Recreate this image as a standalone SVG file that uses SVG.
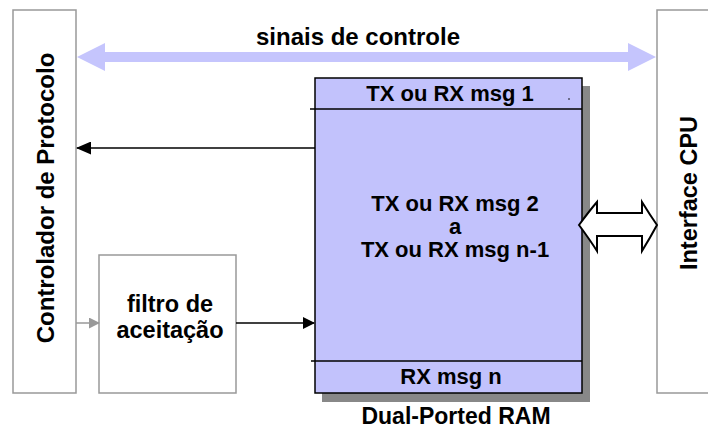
<svg xmlns="http://www.w3.org/2000/svg" width="708" height="429" viewBox="0 0 708 429">
<defs>
<style>
.box{fill:#fff;stroke:#999;stroke-width:1.5}
.t{font-family:"Liberation Sans",Arial,sans-serif;font-weight:bold;font-size:22px;fill:#000;text-anchor:middle}
.big{font-size:24px}
.mid{font-size:23.5px}
.blk{stroke:#000;stroke-width:1.5;fill:none}
</style>
<marker id="ab" viewBox="0 0 12 12" refX="11" refY="6" markerWidth="12" markerHeight="12" markerUnits="userSpaceOnUse" orient="auto"><path d="M0,0 L12,6 L0,12 Z" fill="#000"/></marker>
<marker id="ag" viewBox="0 0 12 12" refX="11" refY="6" markerWidth="11" markerHeight="11" markerUnits="userSpaceOnUse" orient="auto"><path d="M0,0 L12,6 L0,12 Z" fill="#999"/></marker>
<marker id="abl" viewBox="0 0 15 13" refX="14" refY="6.5" markerWidth="15" markerHeight="13" markerUnits="userSpaceOnUse" orient="auto"><path d="M0,0 L15,6.5 L0,13 Z" fill="#000"/></marker>
</defs>
<rect width="708" height="429" fill="#fff"/>
<g id="controlador">
<rect class="box" x="13" y="10" width="63" height="383"/>
<text class="t big" transform="translate(54,198) rotate(-90)">Controlador de Protocolo</text>
</g>
<g id="interface">
<rect class="box" x="657" y="10" width="60" height="383"/>
<text class="t mid" transform="translate(697,193) rotate(-90)">Interface CPU</text>
</g>
<g id="filtro">
<rect class="box" x="99" y="255" width="137" height="138"/>
<text class="t mid" x="170" y="312">filtro de</text>
<text class="t mid" x="170" y="338">aceitação</text>
</g>
<g id="ram">
<rect x="322" y="86" width="268" height="316" fill="#888"/>
<rect x="315" y="78" width="267" height="315" fill="#C2C2FC" stroke="#000" stroke-width="1.5"/>
<line class="blk" x1="310" y1="109" x2="582" y2="109"/>
<line class="blk" x1="311" y1="361" x2="582" y2="361"/>
<circle cx="569" cy="99" r="0.8" fill="#000"/>
<text class="t" x="450" y="101">TX ou RX msg 1</text>
<text class="t" x="455" y="211">TX ou RX msg 2</text>
<text class="t" x="455" y="234">a</text>
<text class="t" x="455" y="257">TX ou RX msg n-1</text>
<text class="t" x="451" y="384">RX msg n</text>
<text class="t" style="font-size:23px" x="456" y="424">Dual-Ported RAM</text>
</g>
<g id="connectors">
<polygon points="77,57 105,43 105,52 628,52 628,43 656,57 628,71 628,62 105,62 105,71" fill="#C5C5FD"/>
<text class="t big" x="358" y="45">sinais de controle</text>
<line class="blk" x1="315" y1="148" x2="77" y2="148" marker-end="url(#abl)"/>
<line x1="76" y1="323" x2="99" y2="323" stroke="#999" stroke-width="1.5" marker-end="url(#ag)"/>
<line class="blk" x1="236" y1="323" x2="314" y2="323" marker-end="url(#ab)"/>
<path d="M579,225 Q590,210 597,202 L597,213 L642,213 L642,202 Q650,215 657,225 Q650,238 642,251 L642,236 L597,236 L597,251 Q590,240 579,225 Z" fill="#fff" stroke="#000" stroke-width="2" stroke-linejoin="miter"/>
</g>
</svg>
